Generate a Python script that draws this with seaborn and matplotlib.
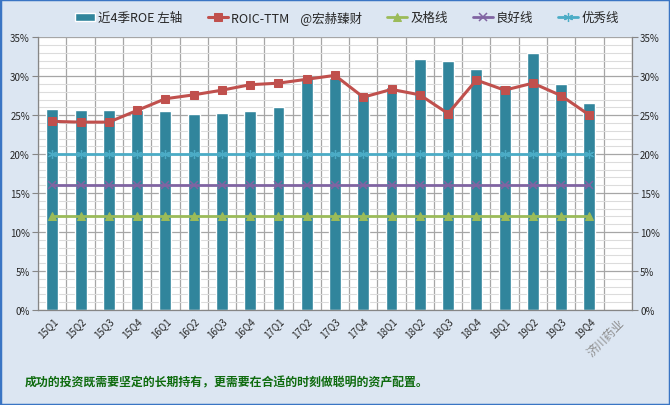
import numpy as np
import pandas as pd
import seaborn as sns
import matplotlib.pyplot as plt
from matplotlib.patches import Rectangle
from matplotlib.ticker import MultipleLocator, PercentFormatter

# --- data (values in %) ---
quarters = ['15Q1', '15Q2', '15Q3', '15Q4', '16Q1', '16Q2', '16Q3', '16Q4',
            '17Q1', '17Q2', '17Q3', '17Q4', '18Q1', '18Q2', '18Q3', '18Q4',
            '19Q1', '19Q2', '19Q3', '19Q4']
extra_label = '济川药业'
x_order = quarters + [extra_label]

roe_4q = [25.8, 25.7, 25.7, 25.7, 25.5, 25.1, 25.3, 25.5,
          26.0, 29.8, 29.8, 27.8, 28.6, 32.2, 31.9, 30.9,
          28.9, 33.0, 29.0, 26.6]
roic_ttm = [24.2, 24.1, 24.1, 25.6, 27.1, 27.6, 28.2, 28.9,
            29.1, 29.6, 30.1, 27.3, 28.3, 27.6, 25.2, 29.5,
            28.2, 29.1, 27.5, 25.0]
pass_line = [12, 12, 12, 12, 12, 12, 12, 12, 12, 12,
             12, 12, 12, 12, 12, 12, 12, 12, 12, 12]
good_line = [16, 16, 16, 16, 16, 16, 16, 16, 16, 16,
             16, 16, 16, 16, 16, 16, 16, 16, 16, 16]
great_line = [20, 20, 20, 20, 20, 20, 20, 20, 20, 20,
              20, 20, 20, 20, 20, 20, 20, 20, 20, 20]

footer = '成功的投资既需要坚定的长期持有，更需要在合适的时刻做聪明的资产配置。'

df = pd.DataFrame({'quarter': quarters, 'roe': roe_4q, 'roic': roic_ttm,
                   'pass': pass_line, 'good': good_line, 'great': great_line})

sns.set_style('white')
plt.rcParams['font.family'] = ['Noto Sans CJK SC', 'DejaVu Sans']
plt.rcParams['axes.unicode_minus'] = False

fig = plt.figure(figsize=(6.7, 4.06), dpi=100, facecolor='#DCE6F2')
ax = fig.add_axes([0.057, 0.234, 0.886, 0.672])
ax.set_facecolor('white')

# bars
sns.barplot(data=df, x='quarter', y='roe', order=x_order, color='#31859C',
            saturation=1, width=0.42, ax=ax, label='近4季ROE 左轴', zorder=2)

# lines
sns.lineplot(data=df, x='quarter', y='roic', ax=ax, color='#C0504D', lw=2.2,
             marker='s', markersize=6, markeredgecolor='#C0504D',
             label='ROIC-TTM    @宏赫臻财', zorder=5)
sns.lineplot(data=df, x='quarter', y='pass', ax=ax, color='#9BBB59', lw=2,
             marker='^', markersize=5.5, markeredgecolor='#9BBB59',
             label='及格线', zorder=4)
sns.lineplot(data=df, x='quarter', y='good', ax=ax, color='#8064A2', lw=2,
             marker='x', markersize=5.5, markeredgecolor='#8064A2', markeredgewidth=1.1,
             label='良好线', zorder=4)
sns.lineplot(data=df, x='quarter', y='great', ax=ax, color='#4BACC6', lw=2,
             marker=(6, 2, 0), markersize=6.5, markeredgecolor='#4BACC6', markeredgewidth=0.9,
             label='优秀线', zorder=4)

# axes
ax.set_xlim(-0.5, len(x_order) - 0.5)
ax.set_ylim(0, 35)
ax.set_xlabel('')
ax.set_ylabel('')
ax.yaxis.set_major_locator(MultipleLocator(5))
ax.yaxis.set_minor_locator(MultipleLocator(1))
ax.yaxis.set_major_formatter(PercentFormatter(decimals=0))

ax.set_xticks(range(len(x_order)))
ax.set_xticklabels(x_order)
ax.set_xticks(np.arange(-0.5, len(x_order), 1), minor=True)
for lab in ax.get_xticklabels():
    lab.set_rotation(45)
    lab.set_ha('right')
    lab.set_rotation_mode('anchor')
    lab.set_fontsize(7)
ax.get_xticklabels()[-1].set_color('#8C8C8C')
ax.get_xticklabels()[-1].set_fontsize(8.5)

ax.tick_params(axis='x', which='major', length=0, pad=4)
ax.tick_params(axis='x', which='minor', length=4, color='#868686', width=0.8)
ax.tick_params(axis='y', which='major', length=4, color='#868686', width=0.8,
               labelsize=7, right=True, labelright=True, left=True, labelleft=True, pad=2)
ax.tick_params(axis='y', which='minor', length=0)

ax.grid(False)
ax.grid(axis='y', which='major', color='#A6A6A6', lw=0.9, zorder=0)
ax.grid(axis='y', which='minor', color='#DCDCDC', lw=0.8, zorder=0)
ax.grid(axis='x', which='minor', color='#A6A6A6', lw=0.9, zorder=0)
ax.set_axisbelow(True)

for side in ['left', 'right', 'bottom']:
    ax.spines[side].set_color('#868686')
    ax.spines[side].set_linewidth(0.9)
ax.spines['top'].set_visible(False)

handles, labels = ax.get_legend_handles_labels()
# bar entry first, as in the original
handles = handles[-1:] + handles[:-1]
labels = labels[-1:] + labels[:-1]
ax.legend(handles, labels, loc='center', bbox_to_anchor=(0.518, 0.955),
          bbox_transform=fig.transFigure, ncol=5, frameon=False, fontsize=9,
          handlelength=1.6, handletextpad=0.25, columnspacing=2.0)

fig.text(0.037, 0.057, footer, color='#0E6B0E', fontsize=8.6, fontweight='bold',
         ha='left', va='center')

fig.patches.append(Rectangle((0, 0), 1, 1, transform=fig.transFigure, fill=False,
                             edgecolor='#3A75C4', lw=2.5))

fig.savefig('out.png', dpi=100, facecolor=fig.get_facecolor())
